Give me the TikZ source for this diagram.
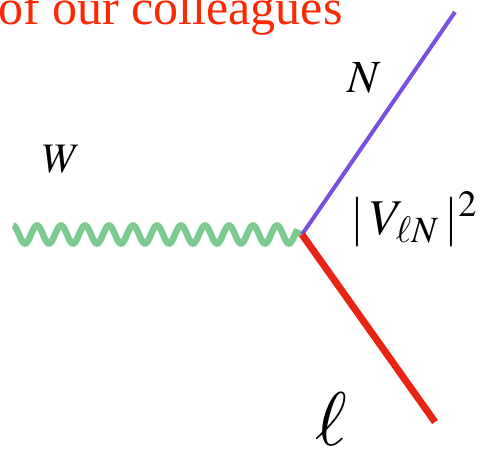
\documentclass[tikz,border=0pt]{standalone}
\usepackage{fontspec}
\usepackage{mathptmx}
\setmainfont{Liberation Serif}
\usepackage{tikz}
\definecolor{wgreen}{RGB}{125,202,145}
\definecolor{npurple}{RGB}{122,78,226}
\definecolor{lred}{RGB}{234,36,20}
\definecolor{tred}{RGB}{250,40,5}

\begin{document}
\begin{tikzpicture}[x=1pt,y=-1pt]
\useasboundingbox (0,0) rectangle (480,452);
\node[anchor=base west,inner sep=0pt,text=tred,font=\fontsize{50}{52}\selectfont] (title) at (-2,25) {of our colleagues};
\coordinate (w) at (13,225.5);\coordinate (v) at (302,234.5);
\coordinate (n) at (455,12);\coordinate (l) at (435,422);
\draw[wgreen,line width=6.5pt,domain=13:296,samples=240] (w) plot (\x,{234.5-9*cos(15*(\x-13))}) -- (v);
\draw[npurple,line width=4pt] (v)--(n);
\draw[lred,line width=7pt] (v)--(l);
\node[font=\fontsize{42}{44}\selectfont] (wlab) at (62,159) {$W$};
\node[font=\fontsize{46}{48}\selectfont] (nlab) at (364,78) {$N$};
\node[font=\fontsize{50}{52}\selectfont] (vlab) at (414,219) {$|\,V_{\ell N}\,|^2$};
\node[font=\fontsize{76}{78}\selectfont] (llab) at (331,419) {$\ell$};
\end{tikzpicture}
\end{document}
